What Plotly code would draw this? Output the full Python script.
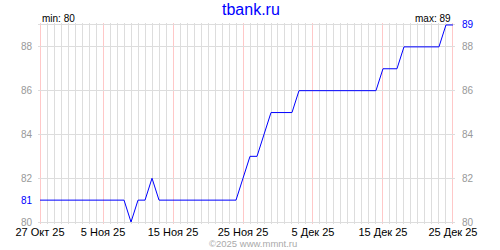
import plotly.graph_objects as go
import pandas as pd

start_date = "2025-10-27"
end_date = "2025-12-25"
values = [81, 81, 81, 81, 81, 81, 81, 81, 81, 81,
          81, 81, 81, 80, 81, 81, 82, 81, 81, 81,
          81, 81, 81, 81, 81, 81, 81, 81, 81, 82,
          83, 83, 84, 85, 85, 85, 85, 86, 86, 86,
          86, 86, 86, 86, 86, 86, 86, 86, 86, 87,
          87, 87, 88, 88, 88, 88, 88, 88, 89, 89]
dates = pd.date_range(start_date, end_date, freq="D")

x_tick_dates = ["2025-10-27", "2025-11-05", "2025-11-15", "2025-11-25",
                "2025-12-05", "2025-12-15", "2025-12-25"]
x_tick_text = ["27 Окт 25", "5 Ноя 25", "15 Ноя 25", "25 Ноя 25",
               "5 Дек 25", "15 Дек 25", "25 Дек 25"]
left_ticks = [80, 81, 82, 84, 86, 88]
right_ticks = [80, 82, 84, 86, 88, 89]
y_min, y_max = 80, 89
title_text = "tbank.ru"
min_text = "min: 80"
max_text = "max: 89"
copyright_text = "©2025 www.mmnt.ru"

BLUE = "#0000ff"
GRAY_TXT = "#999999"
GRID = "#dddddd"
PINK = "#ffc8c8"
FONT = "Liberation Sans"

# small padding so plotly does not clip the border gridlines
x_pad = pd.Timedelta(hours=7)
x_range = [pd.Timestamp(start_date) - x_pad, pd.Timestamp(end_date) + x_pad]
y_pad = 0.09
y_range = [y_min - y_pad, y_max + y_pad]

major_set = set(pd.to_datetime(x_tick_dates))
minor_days = [d for d in dates if d not in major_set]

def label(v, special):
    return f"<span style='color:{BLUE}'>{v}</span>" if v == special else str(v)

fig = go.Figure()
fig.add_trace(go.Scatter(x=[dates[0]], y=[values[0]], xaxis="x2", yaxis="y",
                         mode="lines", line=dict(width=0), showlegend=False,
                         hoverinfo="skip"))
fig.add_trace(go.Scatter(x=[dates[0]], y=[values[0]], xaxis="x", yaxis="y2",
                         mode="lines", line=dict(width=0), showlegend=False,
                         hoverinfo="skip"))
fig.add_trace(go.Scatter(x=dates, y=values, mode="lines",
                         line=dict(color=BLUE, width=1), showlegend=False,
                         hoverinfo="skip"))

fig.update_layout(
    width=500, height=250,
    margin=dict(l=38, r=45, t=23, b=24),
    paper_bgcolor="white", plot_bgcolor="white",
    font=dict(family=FONT, size=10, color="black"),
    xaxis=dict(
        type="date", range=x_range,
        tickmode="array", tickvals=x_tick_dates, ticktext=x_tick_text,
        showgrid=True, gridcolor=PINK, gridwidth=1,
        ticks="", showline=False, zeroline=False,
        tickfont=dict(family=FONT, size=11, color="black"),
        layer="below traces",
    ),
    xaxis2=dict(
        type="date", range=x_range, overlaying="x",
        tickmode="array", tickvals=minor_days, showticklabels=False,
        showgrid=True, gridcolor=GRID, gridwidth=1,
        ticks="", showline=False, zeroline=False, layer="below traces",
    ),
    yaxis=dict(
        range=y_range, tickmode="array", tickvals=left_ticks,
        ticktext=[label(v, 81) for v in left_ticks],
        showgrid=False, zeroline=False, showline=False, ticks="",
        tickfont=dict(family=FONT, size=10, color=GRAY_TXT),
        ticklabelstandoff=5,
    ),
    yaxis2=dict(
        range=y_range, overlaying="y", side="right", tickmode="array",
        tickvals=right_ticks, ticktext=[label(v, 89) for v in right_ticks],
        showgrid=True, gridcolor=GRID, gridwidth=1,
        zeroline=False, showline=False, ticks="",
        tickfont=dict(family=FONT, size=10, color=GRAY_TXT),
        ticklabelstandoff=6, layer="below traces",
    ),
    annotations=[
        dict(text=title_text, xref="paper", yref="paper", x=0.51, y=1.0,
             yshift=14, xanchor="center", yanchor="middle", showarrow=False,
             font=dict(family=FONT, size=16, color=BLUE)),
        dict(text=min_text, xref="x", yref="paper", x=start_date, y=1.0,
             yshift=5, xanchor="left", yanchor="middle", showarrow=False,
             font=dict(family=FONT, size=10, color="black")),
        dict(text=max_text, xref="x", yref="paper", x=end_date, y=1.0,
             yshift=5, xanchor="right", yanchor="middle", showarrow=False,
             font=dict(family=FONT, size=10, color="black")),
        dict(text=copyright_text, xref="paper", yref="paper", x=0.516, y=0,
             yshift=-19, xanchor="center", yanchor="middle", showarrow=False,
             font=dict(family=FONT, size=9.5, color="#aaaaaa")),
    ],
)

fig.write_html("out.html")
